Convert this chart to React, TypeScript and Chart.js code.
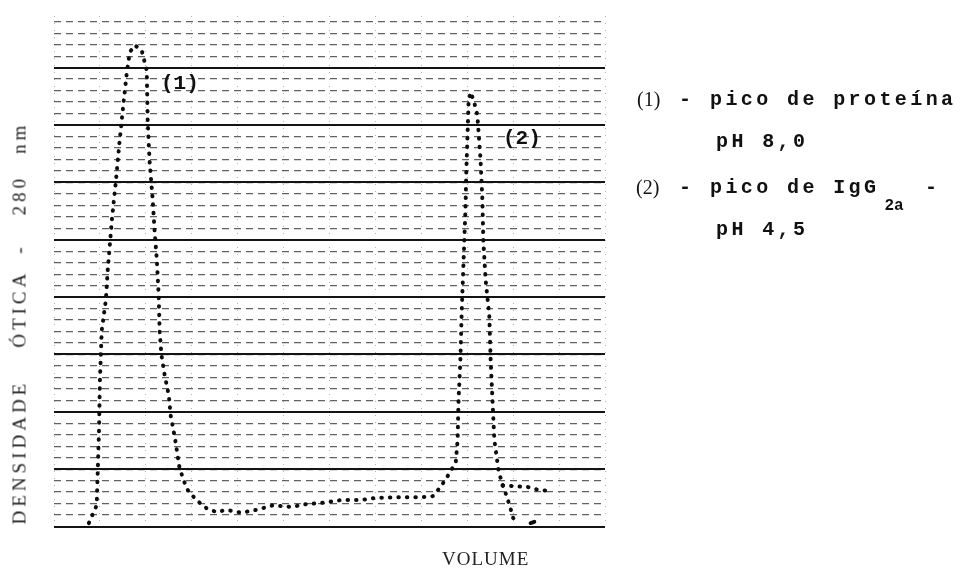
import React, { useEffect, useRef } from "react";
import { Chart, registerables } from "chart.js";

Chart.register(...registerables);

// Elution profile (arbitrary volume units vs. optical density units)
const volume = [
  0.76, 0.93, 0.98, 1.0, 1.04, 1.13, 1.17, 1.26, 1.35, 1.43, 1.52, 1.58, 1.65, 1.76, 1.91,
  2.02, 2.04, 2.08, 2.15, 2.19, 2.24, 2.28, 2.3, 2.34, 2.41, 2.5, 2.54, 2.63, 2.69, 2.73,
  2.82, 2.91, 3.1, 3.32, 3.54, 3.75, 4.08, 4.47, 4.77, 5.16, 5.49, 5.82, 6.25, 6.68, 7.01,
  7.55, 7.99, 8.25, 8.42, 8.59, 8.75, 8.79, 8.81, 8.85, 8.88, 8.92, 8.96, 8.98, 9.01, 9.03,
  9.07, 9.14, 9.22, 9.29, 9.33, 9.35, 9.4, 9.48, 9.51, 9.55, 9.59, 9.68, 9.77, 9.85, 9.94,
  10.0, 10.09,
];
const density = [
  0.06, 0.37, 1.68, 2.55, 3.42, 3.95, 4.47, 5.34, 6.04, 6.73, 7.43, 7.87, 8.27, 8.39, 8.3,
  7.95, 7.08, 6.39, 5.69, 5.17, 4.64, 4.03, 3.42, 2.99, 2.64, 2.29, 1.94, 1.56, 1.25, 1.04,
  0.81, 0.64, 0.46, 0.32, 0.25, 0.29, 0.24, 0.3, 0.37, 0.34, 0.39, 0.41, 0.46, 0.46, 0.5,
  0.51, 0.51, 0.53, 0.69, 0.9, 1.12, 1.51, 2.2, 2.9, 3.77, 4.64, 5.51, 6.21, 6.91, 7.43,
  7.57, 7.43, 7.17, 6.39, 5.69, 4.99, 4.3, 3.68, 2.9, 2.2, 1.51, 0.98, 0.72, 0.55, 0.32,
  0.15, 0.08,
];
// Small tail after peak (2)
const tailVolume = [9.77, 10.05, 10.31, 10.48, 10.76];
const tailDensity = [0.72, 0.7, 0.69, 0.65, 0.62];
// Small blob on the baseline after peak (2)
const blobVolume = [10.38, 10.46];
const blobDensity = [0.06, 0.08];

const xMin = 0;
const xMax = 12;
const yMin = 0;
const yMax = 8.9;
const majorStep = 1;
const minorStep = 0.2;

const yTitleParts = ["DENSIDADE", "ÓTICA", "-", "280", "nm"];
const yTitleGaps = [32, 16, 28, 21];

export default function App() {
  const canvasRef = useRef<HTMLCanvasElement | null>(null);

  useEffect(() => {
    const canvas = canvasRef.current;
    if (!canvas) return;
    const main = volume.map((x, i) => ({ x, y: density[i] }));
    const tail = tailVolume.map((x, i) => ({ x, y: tailDensity[i] }));
    const blob = blobVolume.map((x, i) => ({ x, y: blobDensity[i] }));
    const dotted = {
      showLine: true,
      pointRadius: 0,
      borderColor: "#0d0d0d",
      borderWidth: 4,
      borderDash: [0.5, 8],
      borderCapStyle: "round" as const,
      tension: 0,
      fill: false,
    };
    const chart = new Chart(canvas, {
      type: "line",
      data: {
        datasets: [
          { ...dotted, label: "trace", data: main },
          { ...dotted, label: "tail", data: tail },
          {
            label: "blob",
            data: blob,
            showLine: true,
            borderColor: "#0d0d0d",
            borderWidth: 4,
            pointRadius: 0,
            borderCapStyle: "round" as const,
          },
        ],
      },
      options: {
        animation: false,
        responsive: false,
        maintainAspectRatio: false,
        layout: { padding: { left: 54, right: 357, top: 16, bottom: 41.5 } },
        plugins: { legend: { display: false }, tooltip: { enabled: false } },
        scales: {
          x: {
            type: "linear",
            min: xMin,
            max: xMax,
            ticks: { display: false, stepSize: majorStep },
            grid: { color: "rgba(0,0,0,0.3)", lineWidth: 1, drawTicks: false },
            border: { display: false, dash: [1, 6] },
          },
          yMinor: {
            type: "linear",
            position: "left",
            min: yMin,
            max: yMax,
            ticks: { display: false, stepSize: minorStep, includeBounds: false },
            grid: { color: "rgba(0,0,0,0.62)", lineWidth: 1.2, drawTicks: false },
            border: { display: false, dash: [7, 5] },
          },
          y: {
            type: "linear",
            position: "left",
            min: yMin,
            max: yMax,
            ticks: { display: false, stepSize: majorStep, includeBounds: false },
            grid: { color: "#141414", lineWidth: 2, drawTicks: false },
            border: { display: false },
          },
        },
      },
    });
    return () => chart.destroy();
  }, []);

  const mono: React.CSSProperties = {
    position: "absolute",
    fontFamily: "'Liberation Mono', 'DejaVu Sans Mono', monospace",
    fontWeight: "bold",
    fontSize: 20,
    letterSpacing: "3.4px",
    lineHeight: "20px",
    whiteSpace: "nowrap",
    color: "#111",
  };
  const paren: React.CSSProperties = {
    position: "absolute",
    fontFamily: "'Liberation Serif', serif",
    fontSize: 20,
    lineHeight: "20px",
    whiteSpace: "nowrap",
    color: "#111",
  };
  const plotLabel: React.CSSProperties = {
    position: "absolute",
    fontFamily: "'Liberation Mono', monospace",
    fontWeight: "bold",
    fontSize: 21,
    lineHeight: "21px",
    whiteSpace: "nowrap",
    color: "#111",
  };

  return (
    <div style={{ position: "fixed", left: 0, top: 0, width: 962, height: 568, background: "#fff" }}>
      <canvas
        ref={canvasRef}
        width={962}
        height={568}
        style={{ position: "absolute", left: 0, top: 0, width: 962, height: 568 }}
      />
      {/* y-axis title */}
      <div
        style={{
          position: "absolute",
          left: 19,
          top: 325,
          transform: "translate(-50%, -50%) rotate(-90deg)",
          fontFamily: "'Liberation Serif', serif",
          fontSize: 19,
          letterSpacing: "4px",
          lineHeight: "19px",
          whiteSpace: "nowrap",
          color: "#222",
          display: "flex",
        }}
      >
        {yTitleParts.map((p, i) => (
          <span key={p} style={{ marginRight: i < yTitleGaps.length ? yTitleGaps[i] : -4 }}>
            {p}
          </span>
        ))}
      </div>
      {/* x-axis title */}
      <div
        style={{
          position: "absolute",
          left: 442,
          top: 549,
          fontFamily: "'Liberation Serif', serif",
          fontSize: 19,
          letterSpacing: "1px",
          lineHeight: "19px",
          whiteSpace: "nowrap",
          color: "#222",
        }}
      >
        VOLUME
      </div>
      {/* peak labels inside the plot */}
      <div style={{ ...plotLabel, left: 161, top: 73 }}>(1)</div>
      <div style={{ ...plotLabel, left: 503, top: 128 }}>(2)</div>
      {/* legend */}
      <div style={{ ...paren, left: 637, top: 89 }}>(1)</div>
      <div style={{ ...mono, left: 679, top: 90 }}>-</div>
      <div style={{ ...mono, left: 710, top: 90 }}>pico de proteína</div>
      <div style={{ ...mono, left: 716, top: 132 }}>pH 8,0</div>
      <div style={{ ...paren, left: 636, top: 177 }}>(2)</div>
      <div style={{ ...mono, left: 679, top: 178 }}>-</div>
      <div style={{ ...mono, left: 710, top: 178 }}>
        pico de IgG
        <sub style={{ fontSize: 16, letterSpacing: 0, verticalAlign: "-17px", lineHeight: 0, marginLeft: 5 }}>2a</sub>
        <span style={{ marginLeft: 6 }}>{" -"}</span>
      </div>
      <div style={{ ...mono, left: 716, top: 220 }}>pH 4,5</div>
    </div>
  );
}
